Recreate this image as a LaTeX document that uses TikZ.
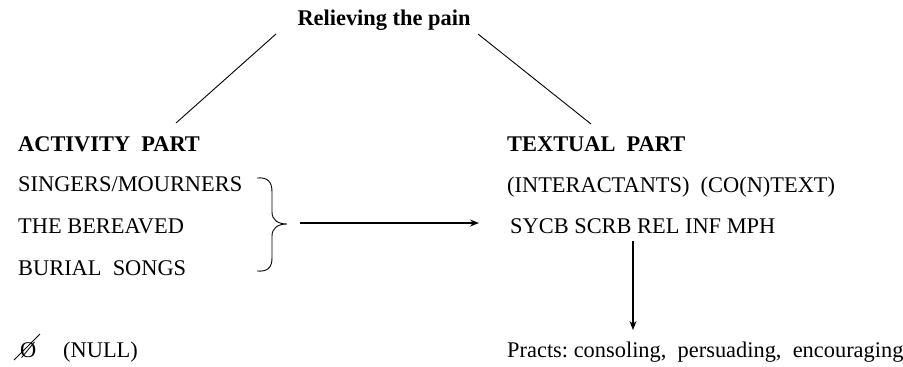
\documentclass[tikz,border=0pt]{standalone}
\usepackage{fontspec}
\setmainfont{Liberation Serif}
\usetikzlibrary{arrows.meta}
\begin{document}
\begin{tikzpicture}[x=1pt,y=-1pt,
  txt/.style={anchor=base west,inner sep=0pt,font=\fontsize{22.4}{27}\selectfont},
  hdr/.style={txt,font=\fontsize{22.4}{27}\selectfont\bfseries},
  conn/.style={line width=0.9pt},
  arr/.style={line width=1.3pt,-{Stealth[length=9pt,width=7pt]}}]
\useasboundingbox (0,0) rectangle (903,367);
\node[hdr,anchor=base] (title) at (384,25) {Relieving the pain};
\node[hdr] (act) at (18,151) {ACTIVITY\ \ PART};
\node[hdr] (tex) at (507,151) {TEXTUAL\ \ PART};
\node[txt] (sing) at (18,191) {SINGERS/MOURNERS};
\node[txt] (ber) at (18,233) {THE BEREAVED};
\node[txt] (bur) at (18,275) {BURIAL\ \ SONGS};
\node[txt] (inter) at (507,192) {(INTERACTANTS)\ \ (CO(N)TEXT)};
\node[txt] (sycb) at (510,233) {SYCB SCRB REL INF MPH};
\node[txt] (null) at (63,357) {(NULL)};
\node[txt] (empty) at (20,357) {Ø};
\node[txt] (practs) at (507,357) {Practs:\ consoling,\ \ persuading,\ \ encouraging};
\coordinate (lt) at (276,34);
\coordinate (lb) at (176,123);
\coordinate (rt) at (478,34);
\coordinate (rb) at (591,124);
\draw[conn] (lt) -- (lb);
\draw[conn] (rt) -- (rb);
\coordinate (bt) at (257,178);
\coordinate (btip) at (287,224);
\coordinate (bb) at (257,271);
\draw[conn] (bt) .. controls (268,177) and (272,182) .. (272,192) -- (272,212)
  .. controls (272,220) and (278,224) .. (btip)
  .. controls (278,224) and (272,228) .. (272,236) -- (272,258)
  .. controls (272,267) and (268,272) .. (bb);
\coordinate (as) at (300,223);
\coordinate (ae) at (479,223);
\draw[arr] (as) -- (ae);
\coordinate (ds) at (633,241);
\coordinate (de) at (633,330);
\draw[arr,line width=1.1pt] (ds) -- (de);
\coordinate (n1) at (14,360);
\coordinate (n2) at (40,334);
\draw[line width=0.8pt] (n1) -- (n2);
\end{tikzpicture}
\end{document}
